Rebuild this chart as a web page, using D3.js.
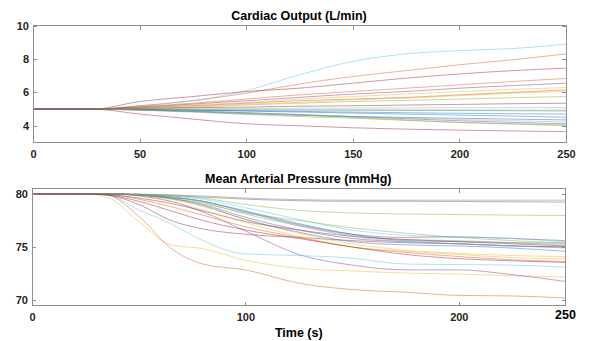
<!DOCTYPE html>
<html>
<head>
<meta charset="utf-8">
<script src="https://cdn.jsdelivr.net/npm/d3@7"></script>
<style>
  html, body { margin: 0; padding: 0; background: #fff; }
  svg { display: block; font-family: Arial, "Liberation Sans", Helvetica, sans-serif; }
</style>
</head>
<body>
<svg id="chart" width="589" height="341"></svg>
<script>
// ---- data -------------------------------------------------------------
const coTitle = "Cardiac Output (L/min)";
const mapTitle = "Mean Arterial Pressure (mmHg)";
const timeLabel = "Time (s)";

const coTimes = [0, 28, 50, 75, 100, 125, 150, 175, 200, 225, 250];
const coSeries = [
  [5, 5, 4.98, 4.96, 4.95, 4.94, 4.93, 4.92, 4.91, 4.90, 4.89],
  [5, 5, 5.20, 5.50, 5.95, 6.50, 6.95, 7.30, 7.65, 7.95, 8.30],
  [5, 5, 5.10, 5.25, 5.40, 5.60, 5.75, 5.90, 6.05, 6.18, 6.29],
  [5, 5, 4.95, 4.85, 4.72, 4.62, 4.55, 4.50, 4.45, 4.40, 4.35],
  [5, 5, 5.05, 5.12, 5.25, 5.35, 5.45, 5.52, 5.60, 5.68, 5.75],
  [5, 5, 5.20, 5.50, 6.10, 7.05, 7.85, 8.30, 8.50, 8.62, 8.88],
  [5, 5, 5.45, 5.75, 6.05, 6.25, 6.55, 6.85, 7.10, 7.30, 7.45],
  [5, 5, 4.97, 4.93, 4.88, 4.82, 4.76, 4.70, 4.64, 4.58, 4.51],
  [5, 5, 5.15, 5.35, 5.60, 5.85, 6.05, 6.25, 6.45, 6.65, 6.83],
  [5, 5, 5.06, 5.15, 5.30, 5.40, 5.55, 5.65, 5.80, 5.95, 6.05],
  [5, 5, 5.12, 5.30, 5.50, 5.70, 5.90, 6.05, 6.25, 6.40, 6.55],
  [5, 5, 4.93, 4.82, 4.68, 4.55, 4.45, 4.32, 4.20, 4.12, 4.05],
  [5, 5, 5.01, 5.02, 5.04, 5.05, 5.06, 5.07, 5.08, 5.09, 5.09],
  [5, 5, 5.03, 5.08, 5.12, 5.17, 5.20, 5.24, 5.28, 5.32, 5.35],
  [5, 5, 4.98, 4.94, 4.90, 4.86, 4.82, 4.78, 4.75, 4.72, 4.70],
  [5, 5, 5.08, 5.20, 5.35, 5.50, 5.60, 5.70, 5.85, 6.00, 6.15],
  [5, 5, 5.00, 4.99, 4.98, 4.97, 4.97, 4.96, 4.96, 4.95, 4.95],
  [5, 5, 4.95, 4.87, 4.78, 4.68, 4.55, 4.42, 4.30, 4.20, 4.12],
  [5, 5, 4.96, 4.88, 4.78, 4.65, 4.50, 4.35, 4.20, 4.10, 4.00],
  [5, 5, 4.94, 4.85, 4.75, 4.65, 4.55, 4.45, 4.38, 4.30, 4.23],
  [5, 5, 4.70, 4.40, 4.12, 4.00, 3.88, 3.80, 3.74, 3.69, 3.65]
];

const mapTimes = [0, 25, 35, 50, 65, 80, 100, 125, 150, 175, 200, 225, 250];
const mapSeries = [
  [80, 80, 80.0, 79.95, 79.85, 79.7, 79.5, 79.35, 79.3, 79.3, 79.28, 79.25, 79.22],
  [80, 80, 80.0, 79.97, 79.9, 79.8, 79.6, 79.45, 79.4, 79.4, 79.4, 79.4, 79.4],
  [80, 80, 79.7, 77.4, 75.2, 74.85, 73.75, 73.0, 72.75, 72.55, 72.45, 72.3, 72.17],
  [80, 80, 80.0, 79.8, 79.3, 78.3, 76.5, 74.3, 73.3, 72.85, 72.85, 72.4, 71.76],
  [80, 80, 80.0, 79.95, 79.85, 79.6, 79.0, 78.45, 78.2, 78.1, 78.05, 78.0, 77.96],
  [80, 80, 79.9, 78.5, 77.2, 75.6, 74.35, 74.2, 73.95, 73.4, 73.35, 73.3, 73.1],
  [80, 80, 79.9, 79.0, 77.5, 76.7, 76.2, 75.9, 75.6, 75.4, 75.3, 75.1, 75.0],
  [80, 80, 80.0, 79.9, 79.7, 79.3, 78.4, 77.2, 76.2, 75.6, 75.5, 75.4, 75.36],
  [80, 80, 79.9, 77.9, 74.9, 73.4, 72.85, 71.6, 71.0, 70.75, 70.45, 70.4, 70.2],
  [80, 80, 80.0, 79.85, 79.5, 78.8, 77.6, 76.3, 75.3, 74.7, 74.4, 74.2, 74.1],
  [80, 80, 80.0, 79.9, 79.7, 79.3, 78.3, 77.1, 76.2, 75.9, 75.95, 75.8, 75.6],
  [80, 80, 80.0, 79.9, 79.7, 79.2, 78.1, 77.0, 76.1, 75.7, 75.6, 75.4, 75.2],
  [80, 80, 80.0, 79.95, 79.8, 79.5, 78.7, 77.6, 76.6, 76.1, 75.95, 75.8, 75.5],
  [80, 80, 79.95, 79.6, 79.1, 78.4, 77.4, 76.6, 76.0, 75.7, 75.5, 75.3, 75.1],
  [80, 80, 80.0, 79.85, 79.55, 78.9, 77.6, 76.4, 75.5, 75.2, 75.1, 74.9, 74.6],
  [80, 80, 79.95, 79.5, 78.8, 78.0, 76.9, 75.9, 75.0, 74.5, 74.1, 73.8, 73.64],
  [80, 80, 80.0, 79.8, 79.3, 78.5, 77.3, 76.0, 75.0, 74.6, 74.3, 74.0, 73.9],
  [80, 80, 80.0, 79.9, 79.6, 79.0, 77.8, 76.6, 75.8, 75.5, 75.3, 75.1, 75.0],
  [80, 80, 80.0, 79.9, 79.6, 79.1, 78.2, 77.5, 76.8, 76.3, 75.9, 75.6, 75.4],
  [80, 80, 80.0, 79.9, 79.7, 79.3, 78.3, 77.0, 76.0, 75.5, 75.3, 75.1, 74.9],
  [80, 80, 79.9, 79.3, 78.4, 77.5, 76.6, 75.8, 75.0, 74.3, 73.9, 73.7, 73.55]
];

const coXTicks = [0, 50, 100, 150, 200, 250];
const coYTicks = [4, 6, 8, 10];
const mapXTicks = [0, 100, 200];
const mapYTicks = [70, 75, 80];
const timeDomain = [0, 250];
const coDomain = [3, 10];
const mapDomain = [69.5, 80.5];

// ---- styling ----------------------------------------------------------
const lineColors = ["#0072BD", "#D95319", "#EDB120", "#7E2F8E", "#77AC30", "#4DBEEE", "#A2142F"];
const axisColor = "#8f8f8f";
const textColor = "#262626";

const svg = d3.select("#chart");

function drawPanel(cfg) {
  const x = d3.scaleLinear().domain(timeDomain).range([cfg.left, cfg.right]);
  const y = d3.scaleLinear().domain(cfg.yDomain).range([cfg.bottom, cfg.top]);
  const g = svg.append("g");

  const clipId = "clip-" + cfg.id;
  g.append("clipPath").attr("id", clipId)
    .append("rect")
    .attr("x", cfg.left).attr("y", cfg.top)
    .attr("width", cfg.right - cfg.left).attr("height", cfg.bottom - cfg.top);

  const line = d3.line()
    .x((d, i) => x(cfg.times[i]))
    .y(d => y(d))
    .curve(d3.curveMonotoneX);

  g.append("g").attr("clip-path", `url(#${clipId})`)
    .selectAll("path")
    .data(cfg.series)
    .join("path")
    .attr("d", line)
    .attr("fill", "none")
    .attr("stroke", (d, i) => lineColors[i % lineColors.length])
    .attr("stroke-opacity", 0.45)
    .attr("stroke-width", 1);

  // box
  g.append("rect")
    .attr("x", cfg.left).attr("y", cfg.top)
    .attr("width", cfg.right - cfg.left).attr("height", cfg.bottom - cfg.top)
    .attr("fill", "none").attr("stroke", axisColor).attr("stroke-width", 1)
    .attr("shape-rendering", "crispEdges");

  const styleAxis = sel => {
    sel.select(".domain").remove();
    sel.selectAll(".tick line").attr("stroke", axisColor).attr("shape-rendering", "crispEdges");
    sel.selectAll(".tick text")
      .attr("fill", textColor)
      .attr("font-size", 11)
      .attr("font-weight", "bold");
  };

  g.append("g").attr("transform", `translate(0,${cfg.bottom})`)
    .call(d3.axisBottom(x).tickValues(cfg.xTicks).tickSize(-4).tickPadding(cfg.xPad).tickFormat(d3.format("d")))
    .call(styleAxis);
  g.append("g").attr("transform", `translate(0,${cfg.top})`)
    .call(d3.axisTop(x).tickValues(cfg.xTicks).tickSize(-4).tickFormat(""))
    .call(styleAxis);
  g.append("g").attr("transform", `translate(${cfg.left},0)`)
    .call(d3.axisLeft(y).tickValues(cfg.yTicks).tickSize(-4).tickPadding(4).tickFormat(d3.format("d")))
    .call(styleAxis);
  g.append("g").attr("transform", `translate(${cfg.right},0)`)
    .call(d3.axisRight(y).tickValues(cfg.yTicks).tickSize(-4).tickFormat(""))
    .call(styleAxis);

  g.append("text")
    .attr("x", (cfg.left + cfg.right) / 2 - 0.5)
    .attr("y", cfg.titleY)
    .attr("text-anchor", "middle")
    .attr("font-size", 12.5)
    .attr("font-weight", "bold")
    .attr("fill", "#000")
    .text(cfg.title);

  return { x, y, g };
}

drawPanel({
  id: "co", title: coTitle, titleY: 19.5,
  left: 33, right: 566, top: 25.5, bottom: 142.5,
  yDomain: coDomain, times: coTimes, series: coSeries,
  xTicks: coXTicks, yTicks: coYTicks, xPad: 8
});

const map = drawPanel({
  id: "map", title: mapTitle, titleY: 183,
  left: 32, right: 565.5, top: 188.5, bottom: 305.5,
  yDomain: mapDomain, times: mapTimes, series: mapSeries,
  xTicks: mapXTicks, yTicks: mapYTicks, xPad: 7.5
});

// end-of-axis time label, set larger than the other ticks
map.g.append("text")
  .attr("x", map.x(timeDomain[1]))
  .attr("y", 318.5)
  .attr("text-anchor", "middle")
  .attr("font-size", 12.5)
  .attr("font-weight", "bold")
  .attr("fill", "#000")
  .text(d3.format("d")(timeDomain[1]));

map.g.append("text")
  .attr("x", (map.x(0) + map.x(250)) / 2)
  .attr("y", 337)
  .attr("text-anchor", "middle")
  .attr("font-size", 12.5)
  .attr("font-weight", "bold")
  .attr("fill", "#000")
  .text(timeLabel);
</script>
</body>
</html>
